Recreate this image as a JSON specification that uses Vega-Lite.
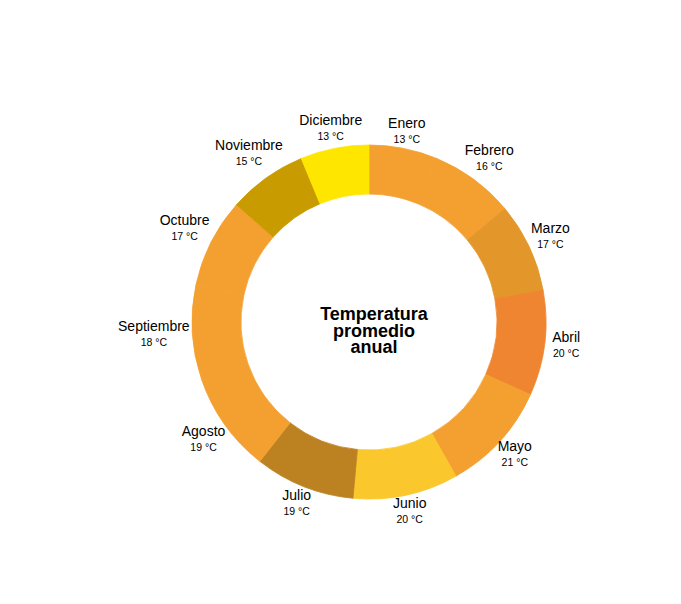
{
  "$schema": "https://vega.github.io/schema/vega-lite/v6.json",
  "width": 624,
  "height": 564,
  "padding": {"left": 57, "top": 40, "right": 0, "bottom": 0},
  "autosize": {"type": "none"},
  "background": "white",
  "config": {"view": {"stroke": null}, "font": "Liberation Sans"},
  "data": {
    "values": [
      {"i": 1, "mes": "Enero", "temp": 13},
      {"i": 2, "mes": "Febrero", "temp": 16},
      {"i": 3, "mes": "Marzo", "temp": 17},
      {"i": 4, "mes": "Abril", "temp": 20},
      {"i": 5, "mes": "Mayo", "temp": 21},
      {"i": 6, "mes": "Junio", "temp": 20},
      {"i": 7, "mes": "Julio", "temp": 19},
      {"i": 8, "mes": "Agosto", "temp": 19},
      {"i": 9, "mes": "Septiembre", "temp": 18},
      {"i": 10, "mes": "Octubre", "temp": 17},
      {"i": 11, "mes": "Noviembre", "temp": 15},
      {"i": 12, "mes": "Diciembre", "temp": 13}
    ]
  },
  "transform": [{"calculate": "datum.temp + ' °C'", "as": "etiqueta"}],
  "encoding": {
    "theta": {"field": "temp", "type": "quantitative", "stack": true},
    "order": {"field": "i", "type": "quantitative"}
  },
  "layer": [
    {
      "mark": {"type": "arc", "innerRadius": 128, "outerRadius": 177, "strokeWidth": 0.8},
      "encoding": {
        "color": {
          "field": "mes",
          "type": "nominal",
          "legend": null,
          "scale": {
            "domain": ["Enero", "Febrero", "Marzo", "Abril", "Mayo", "Junio", "Julio", "Agosto", "Septiembre", "Octubre", "Noviembre", "Diciembre"],
            "range": ["#F4A030", "#F4A030", "#E3962A", "#EF8530", "#F4A030", "#FAC82C", "#BC8222", "#F4A030", "#F4A030", "#F4A030", "#C89B00", "#FFE600"]
          }
        },
        "stroke": {
          "field": "mes",
          "type": "nominal",
          "legend": null,
          "scale": {
            "domain": ["Enero", "Febrero", "Marzo", "Abril", "Mayo", "Junio", "Julio", "Agosto", "Septiembre", "Octubre", "Noviembre", "Diciembre"],
            "range": ["#F4A030", "#F4A030", "#E3962A", "#EF8530", "#F4A030", "#FAC82C", "#BC8222", "#F4A030", "#F4A030", "#F4A030", "#C89B00", "#FFE600"]
          }
        }
      }
    },
    {
      "mark": {"type": "text", "dy": -8, "fontSize": 14, "fill": "black",
        "radius": {"expr": "180 + abs(sin(scale('theta', (datum.temp_start + datum.temp_end) / 2))) * length(datum.mes) * 3.5 + abs(cos(scale('theta', (datum.temp_start + datum.temp_end) / 2))) * 10.5"}},
      "encoding": {"text": {"field": "mes"}}
    },
    {
      "mark": {"type": "text", "dy": 8, "fontSize": 10.5, "fill": "black",
        "radius": {"expr": "180 + abs(sin(scale('theta', (datum.temp_start + datum.temp_end) / 2))) * length(datum.mes) * 3.5 + abs(cos(scale('theta', (datum.temp_start + datum.temp_end) / 2))) * 10.5"}},
      "encoding": {"text": {"field": "etiqueta"}}
    },
    {
      "data": {"values": [{"t": "Temperatura\npromedio\nanual"}]},
      "mark": {"type": "text", "lineBreak": "\n", "fontSize": 18, "fontWeight": "bold", "lineHeight": 16.5, "baseline": "middle", "align": "center", "fill": "black", "dx": 5, "dy": -7},
      "encoding": {"text": {"field": "t"}, "theta": null, "order": null}
    }
  ]
}
